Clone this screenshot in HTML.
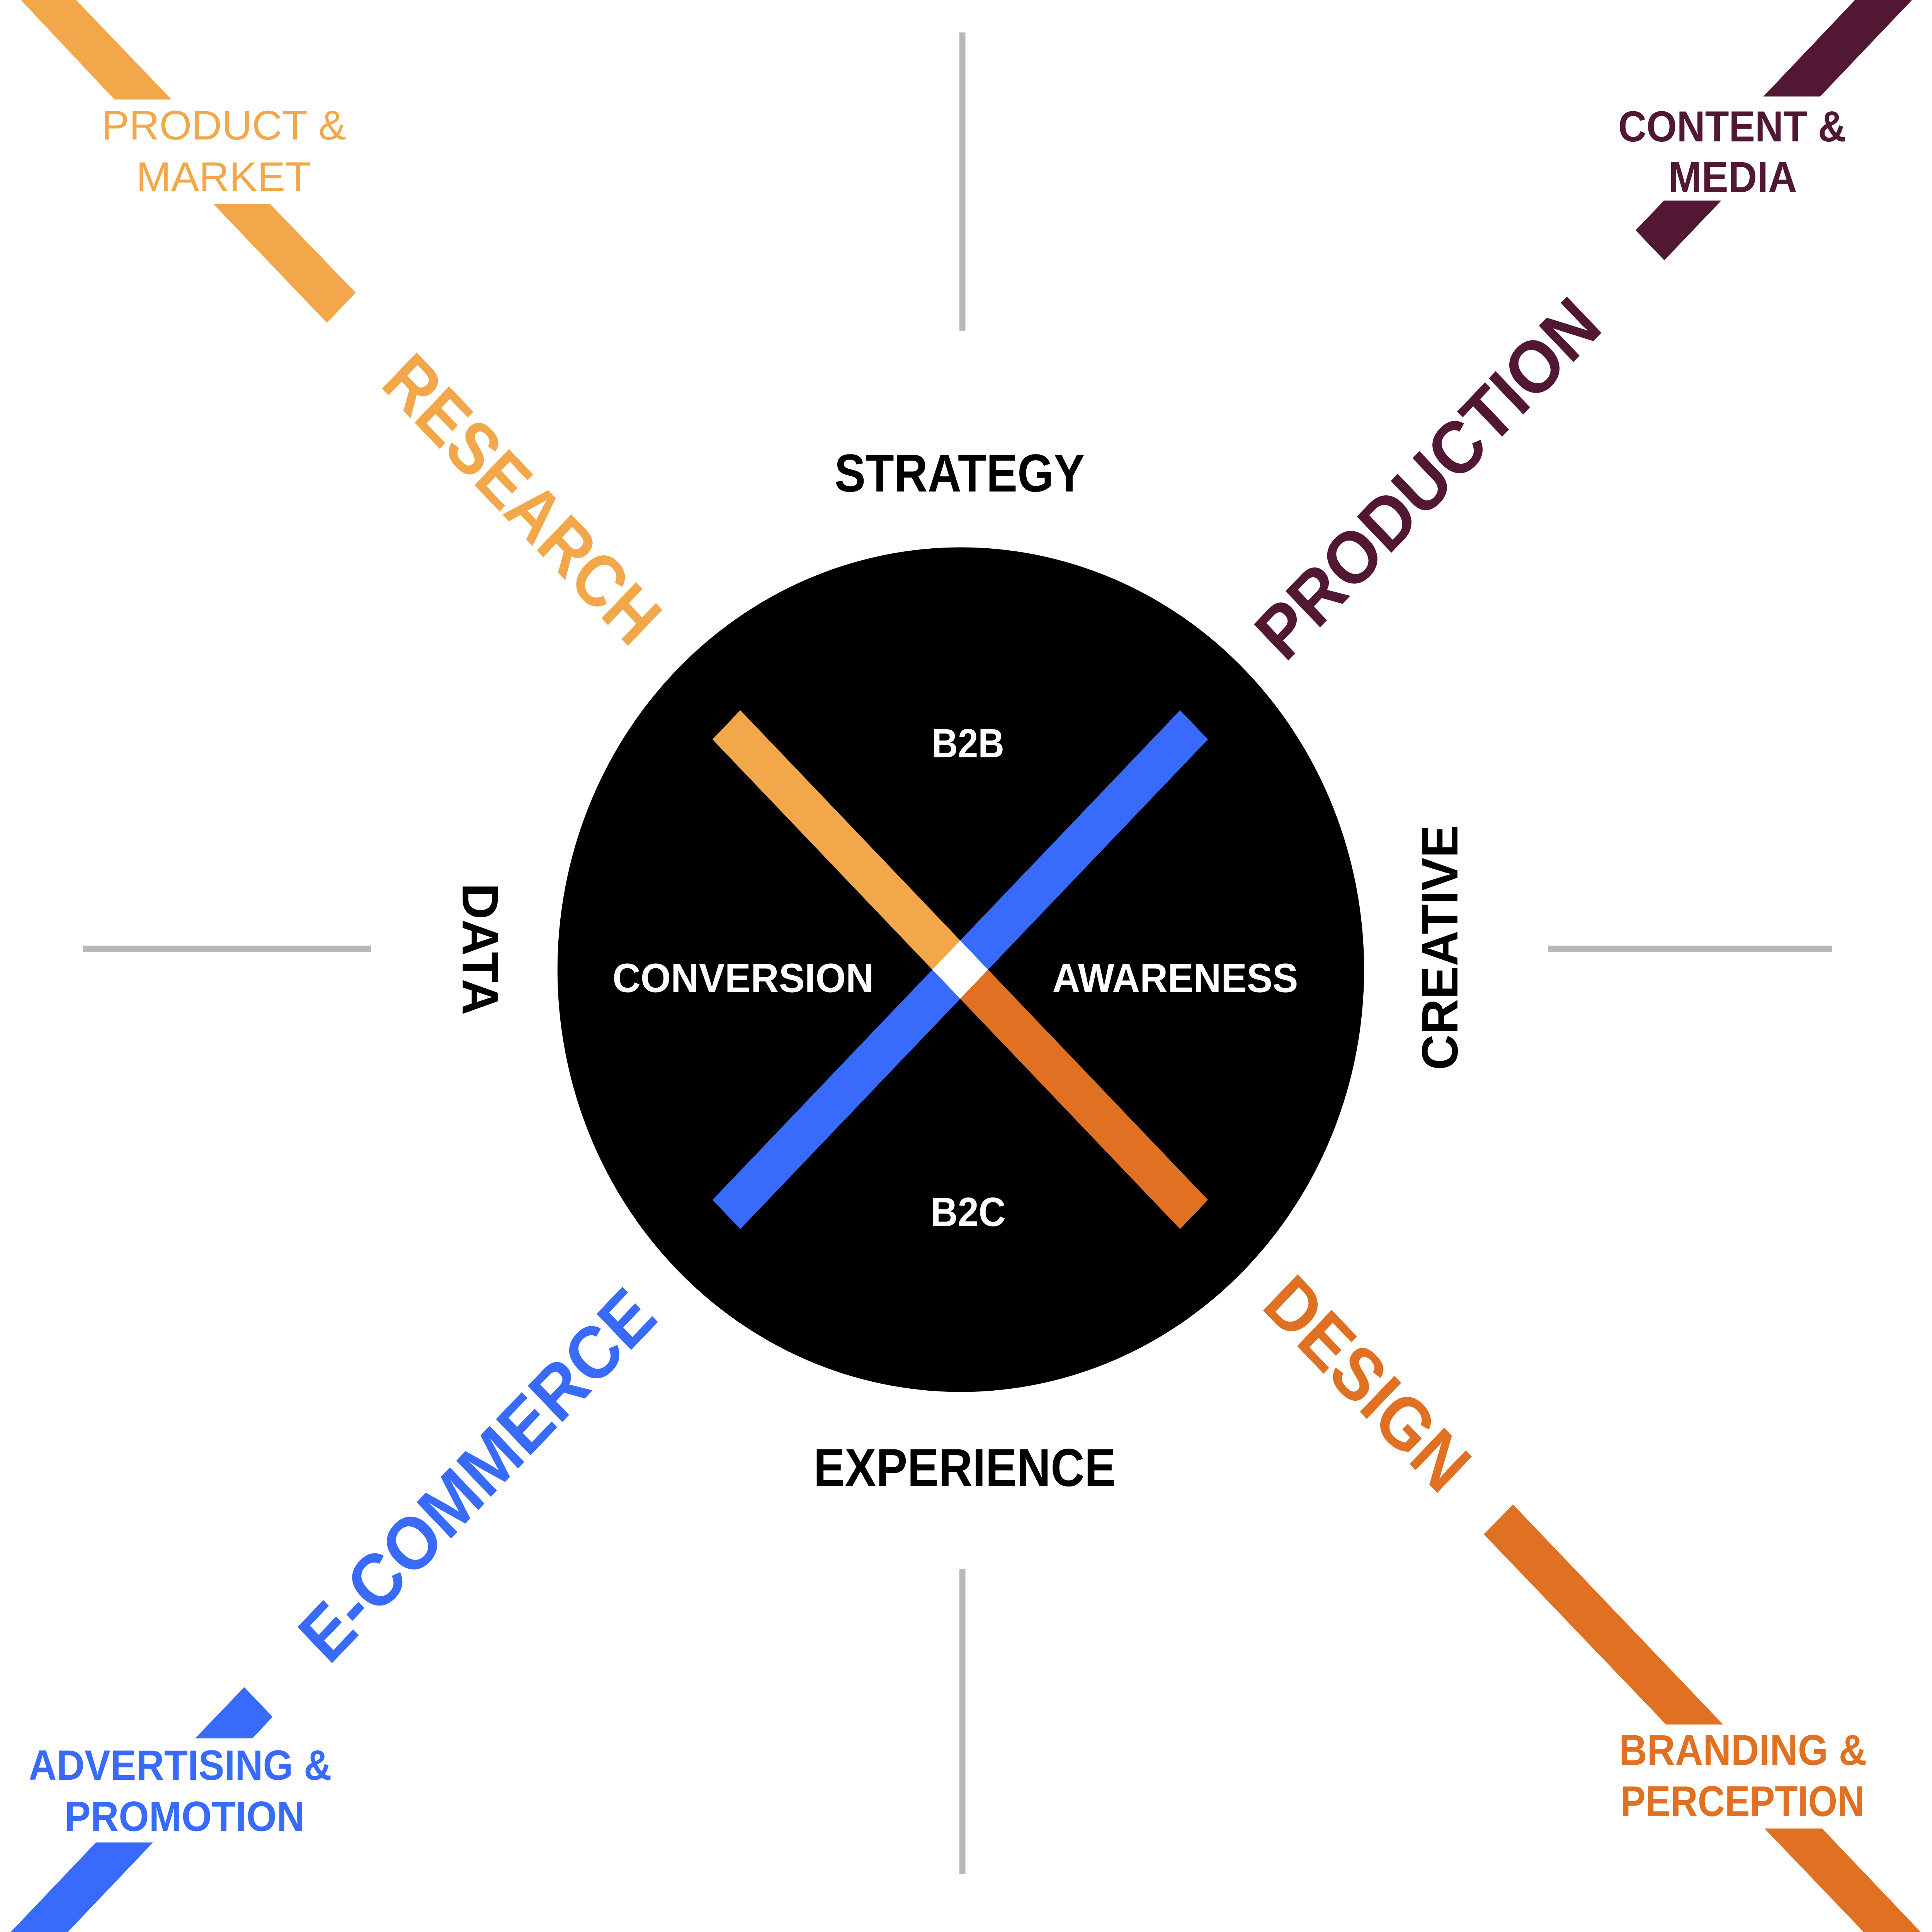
<!DOCTYPE html>
<html><head><meta charset="utf-8"><style>html,body{margin:0;padding:0;background:#fff;width:100%;height:100%;overflow:hidden}svg{display:block;position:absolute;left:0;top:0;width:100vw;height:100vh}</style></head>
<body>
<svg xmlns="http://www.w3.org/2000/svg" viewBox="0 0 6668 6368" preserveAspectRatio="none" font-family="Liberation Sans, sans-serif">
<rect width="6668" height="6368" fill="#fff"/>
<rect x="3311" y="107" width="21" height="983" fill="#b8b8b8"/>
<rect x="3311" y="5172" width="21" height="1004" fill="#b8b8b8"/>
<rect x="286" y="3117" width="995" height="21" fill="#b8b8b8"/>
<rect x="5343" y="3117" width="980" height="21" fill="#b8b8b8"/>
<polygon points="72,0 263,0 592,328 395,328" fill="#F2A84A"/>
<polygon points="736,672 932,672 1228,965 1128,1064" fill="#F2A84A"/>
<polygon points="6402,0 6599,0 6282,318 6086,318" fill="#511733"/>
<polygon points="5743,661 5941,661 5744,858 5645,759" fill="#511733"/>
<polygon points="843,5561 941,5659 871,5730 673,5730" fill="#386BFC"/>
<polygon points="331,6073 528,6073 234,6368 37,6368" fill="#386BFC"/>
<polygon points="5222,4959 5121,5057 5750,5684 5947,5684" fill="#E07022"/>
<polygon points="6090,6027 6289,6027 6629,6368 6432,6368" fill="#E07022"/>
<circle cx="3316" cy="3196" r="1392" fill="#000"/>
<line x1="2507" y1="2389" x2="3314" y2="3196" stroke="#F2A84A" stroke-width="136"/>
<line x1="3314" y1="3196" x2="4121" y2="4003" stroke="#E07022" stroke-width="136"/>
<line x1="4121" y1="2389" x2="2507" y2="4003" stroke="#386BFC" stroke-width="136"/>
<polygon points="3314,3100 3410,3196 3314,3292 3218,3196" fill="#fff"/>
<g fill="#fff" font-weight="bold" font-size="135">
<text x="3216" y="2496" textLength="250" lengthAdjust="spacingAndGlyphs">B2B</text>
<text x="2114" y="3270" textLength="902" lengthAdjust="spacingAndGlyphs">CONVERSION</text>
<text x="3632" y="3270" textLength="848" lengthAdjust="spacingAndGlyphs">AWARENESS</text>
<text x="3212" y="4041" textLength="259" lengthAdjust="spacingAndGlyphs">B2C</text>
</g>
<g fill="#000" font-weight="bold" font-size="176">
<text x="2880" y="1620" textLength="864" lengthAdjust="spacingAndGlyphs">STRATEGY</text>
<text x="2808" y="4898" textLength="1043" lengthAdjust="spacingAndGlyphs">EXPERIENCE</text>
<g transform="translate(1661,3128) rotate(90)"><text x="-217" y="64" textLength="435" lengthAdjust="spacingAndGlyphs">DATA</text></g>
<g transform="translate(4966,3123) rotate(-90)"><text x="-404" y="64" textLength="808" lengthAdjust="spacingAndGlyphs">CREATIVE</text></g>
</g>
<g font-weight="bold" font-size="245" text-anchor="middle">
<g transform="translate(1806,1642) rotate(45)"><text x="0" y="89" fill="#F2A84A" textLength="1229" lengthAdjust="spacingAndGlyphs">RESEARCH</text></g>
<g transform="translate(4924,1574) rotate(-45)"><text x="0" y="89" fill="#511733" textLength="1559" lengthAdjust="spacingAndGlyphs">PRODUCTION</text></g>
<g transform="translate(1643,4859) rotate(-45)"><text x="0" y="89" fill="#386BFC" textLength="1615" lengthAdjust="spacingAndGlyphs">E-COMMERCE</text></g>
<g transform="translate(4723,4557) rotate(45)"><text x="0" y="89" fill="#E07022" textLength="881" lengthAdjust="spacingAndGlyphs">DESIGN</text></g>
</g>
<g font-size="136" fill="#F2A84A">
<text x="350" y="460" textLength="845" lengthAdjust="spacingAndGlyphs">PRODUCT &amp;</text>
<text x="470" y="629" textLength="603" lengthAdjust="spacingAndGlyphs">MARKET</text>
</g>
<g font-size="143" font-weight="bold" fill="#511733">
<text x="5585" y="466" textLength="787" lengthAdjust="spacingAndGlyphs">CONTENT &amp;</text>
<text x="5758" y="633" textLength="444" lengthAdjust="spacingAndGlyphs">MEDIA</text>
</g>
<g font-size="140" font-weight="bold" fill="#386BFC">
<text x="99" y="5866" textLength="1046" lengthAdjust="spacingAndGlyphs">ADVERTISING &amp;</text>
<text x="223" y="6035" textLength="829" lengthAdjust="spacingAndGlyphs">PROMOTION</text>
</g>
<g font-size="142" font-weight="bold" fill="#E07022">
<text x="5588" y="5817" textLength="855" lengthAdjust="spacingAndGlyphs">BRANDING &amp;</text>
<text x="5593" y="5986" textLength="842" lengthAdjust="spacingAndGlyphs">PERCEPTION</text>
</g>
</svg>
</body></html>
